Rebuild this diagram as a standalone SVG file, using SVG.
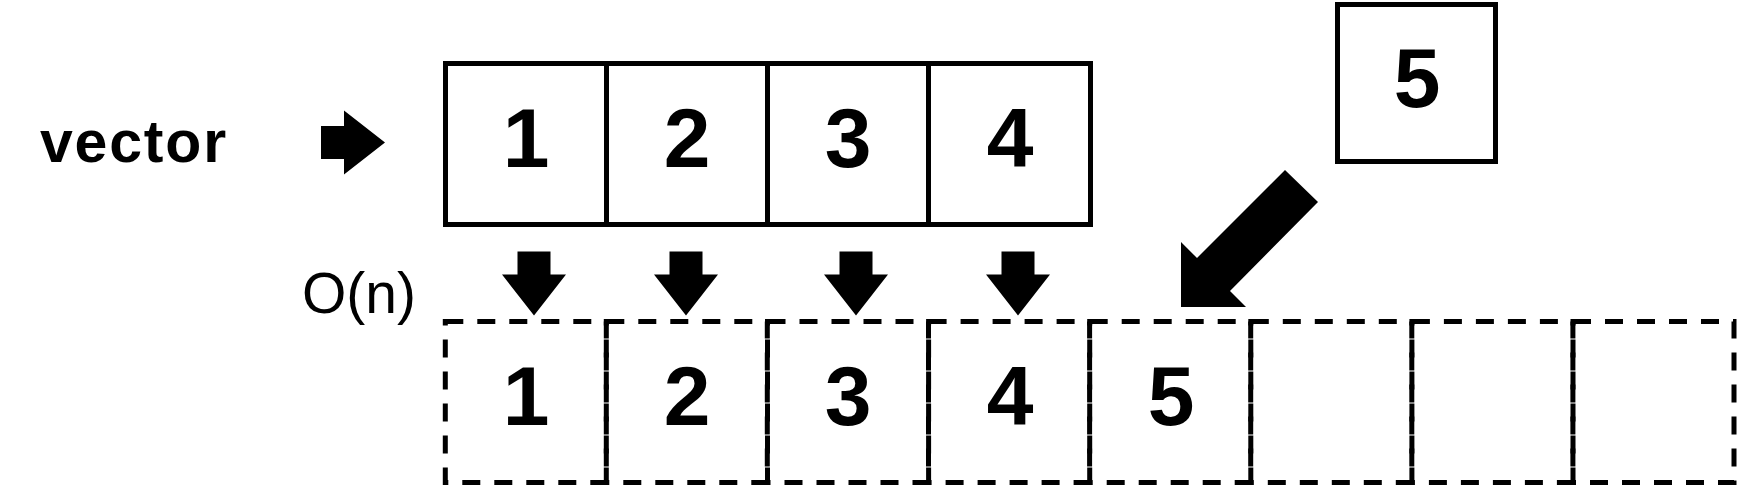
<svg xmlns="http://www.w3.org/2000/svg" width="1737" height="501" viewBox="0 0 1737 501">
<style>
.cell{fill:#fff;stroke:#000;stroke-width:5}
.dcell{fill:none;stroke:#000;stroke-width:5;stroke-dasharray:18 14}
.num{font-family:"Liberation Sans",Arial,sans-serif;font-weight:bold;font-size:84px;fill:#000;text-anchor:middle}
.lbl{font-family:"Liberation Sans",Arial,sans-serif;fill:#000}
.arr{fill:#000;stroke:none}
</style>
<defs>
<path id="blk" d="M0,-16.5 H23 V-32 L64,0 L23,32 V16.5 H0 Z"/>
</defs>
<rect width="1737" height="501" fill="#fff"/>
<g id="label-vector"><text class="lbl" x="40" y="162" font-size="59" font-weight="bold" letter-spacing="1.8">vector</text></g>
<g id="label-complexity"><text class="lbl" x="302" y="313" font-size="57">O(n)</text></g>
<g id="vector-old">
<rect class="cell" x="445.5" y="63.5" width="161" height="161"/>
<rect class="cell" x="606.5" y="63.5" width="161" height="161"/>
<rect class="cell" x="767.5" y="63.5" width="161" height="161"/>
<rect class="cell" x="928.5" y="63.5" width="162" height="161"/>
<text class="num" x="526" y="167">1</text>
<text class="num" x="687" y="167">2</text>
<text class="num" x="848" y="167">3</text>
<text class="num" x="1010" y="167">4</text>
</g>
<g id="new-element">
<rect class="cell" x="1337.5" y="4.5" width="158" height="157"/>
<text class="num" x="1417" y="107">5</text>
</g>
<g id="vector-new">
<rect class="dcell" x="445.3" y="321.5" width="161" height="161"/>
<rect class="dcell" x="606.3" y="321.5" width="161" height="161"/>
<rect class="dcell" x="767.5" y="321.5" width="161" height="161"/>
<rect class="dcell" x="928.6" y="321.5" width="161" height="161"/>
<rect class="dcell" x="1089.7" y="321.5" width="161" height="161"/>
<rect class="dcell" x="1250.8" y="321.5" width="161" height="161"/>
<rect class="dcell" x="1411.9" y="321.5" width="161" height="161"/>
<rect class="dcell" x="1573" y="321.5" width="161" height="161"/>
<text class="num" x="526" y="425">1</text>
<text class="num" x="687" y="425">2</text>
<text class="num" x="848" y="425">3</text>
<text class="num" x="1010" y="425">4</text>
<text class="num" x="1171" y="425">5</text>
</g>
<g id="connectors">
<use href="#blk" class="arr" transform="translate(321,142.5)"/>
<use href="#blk" class="arr" transform="translate(534,251.5) rotate(90)"/>
<use href="#blk" class="arr" transform="translate(686,251.5) rotate(90)"/>
<use href="#blk" class="arr" transform="translate(856,251.5) rotate(90)"/>
<use href="#blk" class="arr" transform="translate(1018,251.5) rotate(90)"/>
<polygon class="arr" points="1285,170 1318,202 1230,291 1246,307 1181,307 1181,242 1197,258"/>
</g>
</svg>
